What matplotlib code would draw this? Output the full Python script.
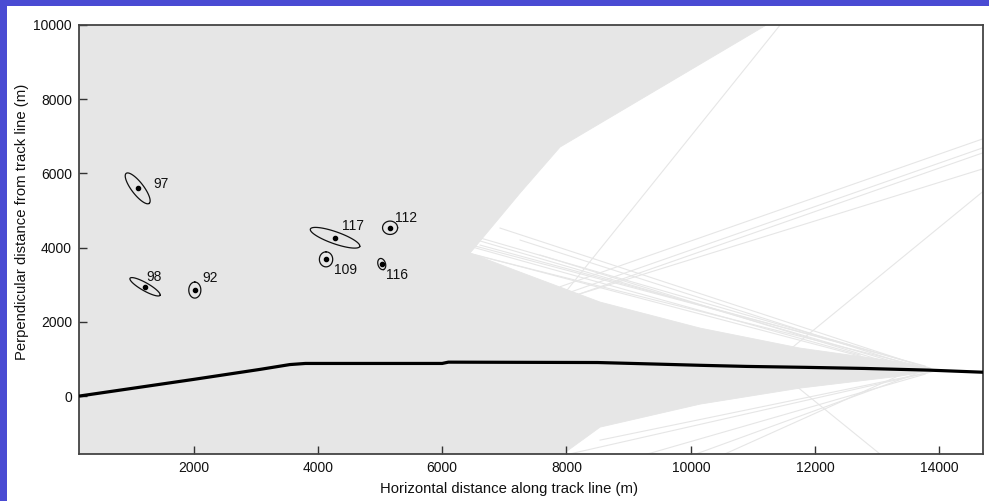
import numpy as np
import matplotlib
matplotlib.use('Agg')
from matplotlib import pyplot as plt
from matplotlib.patches import Polygon, Rectangle

plt.rcParams['font.family'] = ['Liberation Sans', 'DejaVu Sans']

# dense cloud of simulated tracks (outline, metres)
cloud_x = [0, 11720, 7897, 7253, 6449, 7253, 8540, 10149, 11758, 13367,
           13931, 13367, 11758, 10149, 8540, 7897, 7897, 0]
cloud_y = [10500, 10500, 6712, 5472, 3854, 3342, 2534, 1833, 1294, 916,
           701, 539, 216, -216, -836, -1617, -1700, -1700]

# stray tracks that leave the cloud (start x, start y, end x, end y)
stray_x0 = [11580, 14800, 11179, 14800, 14800, 14800, 14800,
            6449, 6610, 6931, 7253, 6208, 7575, 5966, 6127, 6288, 6449,
            8540, 9184, 9989, 10471, 7897]
stray_y0 = [10300, 5651, 970, 6992, 6750, 6615, 6177,
            4340, 4070, 4528, 4205, 3935, 3801, 4259, 3989, 4151, 4259,
            -1186, -1617, -1617, -1617, -1617]
stray_x1 = [7881, 11115, 13146, 7900, 7900, 7900, 7900,
            13850, 13770, 13609, 13367, 13931, 13045, 12724, 13206, 12563,
            13609,
            13850, 13770, 13609, 13367, 13931]
stray_y1 = [2588, 601, -1700, 2949, 2707, 2572, 2589,
            755, 809, 863, 916, 701, 970, 1105, 863, 1375, 755,
            647, 593, 593, 566, 674]

# ship track line
track_x = [158, 2000, 3070, 3550, 3800, 6000, 6100, 8500, 9400, 10150,
           10900, 11850, 12800, 13830, 14750]
track_y = [0, 450, 720, 850, 880, 880, 915, 905, 865, 830,
           800, 775, 745, 700, 640]

# estimated positions and their error ellipses
ids = ['97', '98', '92', '117', '112', '109', '116']
est_x = [1102, 1220, 2021, 4277, 5162, 4132, 5028]
est_y = [5598, 2946, 2857, 4267, 4536, 3685, 3558]
ell_ux = [185, 241, 0, 397, 121, 0, 28]
ell_uy = [-404, -229, 216, -234, 0, 202, -148]
ell_vx = [77, 32, 97, 32, 0, 107, 58]
ell_vy = [98, 94, 0, 152, 180, 0, 30]
lab_x = [1348, 1247, 2148, 4385, 5247, 4266, 5097]
lab_y = [5714, 3216, 3180, 4582, 4806, 3410, 3275]

gray = '#e6e6e6'
ink = '#111111'

fig = plt.figure(figsize=(9.89, 5.01), dpi=100, facecolor='#4a4bd3')
fig.patches.append(Rectangle((7 / 989, 0), 1, 1 - 6 / 501,
                             transform=fig.transFigure, facecolor='white',
                             edgecolor='none', zorder=-10))
ax = fig.add_axes([79 / 989, 47 / 501, 904 / 989, 429 / 501])
ax.set_facecolor('white')

ax.add_patch(Polygon(np.column_stack([cloud_x, cloud_y]), closed=True,
                     facecolor=gray, edgecolor=gray, lw=0.6, zorder=1))
for x0, y0, x1, y1 in zip(stray_x0, stray_y0, stray_x1, stray_y1):
    ax.plot([x0, x1], [y0, y1], color=gray, lw=0.8, zorder=1)

ax.plot(track_x, track_y, color='black', lw=2.3, zorder=3,
        solid_capstyle='butt')

t = np.linspace(0, 2 * np.pi, 120)
for i in range(len(ids)):
    ex = est_x[i] + ell_ux[i] * np.cos(t) + ell_vx[i] * np.sin(t)
    ey = est_y[i] + ell_uy[i] * np.cos(t) + ell_vy[i] * np.sin(t)
    ax.plot(ex, ey, color=ink, lw=0.9, zorder=4)
    ax.plot(est_x[i], est_y[i], 'o', color='black', ms=3, zorder=5)
    ax.text(lab_x[i], lab_y[i], ids[i], fontsize=10, color=ink,
            ha='left', va='center', zorder=5)

ax.set_xlim(158, 14700)
ax.set_ylim(-1560, 10000)
ax.set_xticks(range(2000, 14001, 2000))
ax.set_yticks(range(0, 10001, 2000))
ax.tick_params(direction='in', length=6, width=1, color='#333333',
               labelsize=10, labelcolor=ink, pad=5)
for sp in ax.spines.values():
    sp.set_color('#444444')
    sp.set_linewidth(1.3)

fig.text(509 / 989, 1 - 489 / 501, 'Horizontal distance along track line (m)',
         ha='center', va='center', fontsize=10.7, color=ink)
fig.text(22 / 989, 1 - 222 / 501, 'Perpendicular distance from track line (m)',
         ha='center', va='center', rotation=90, fontsize=10.7, color=ink)

fig.savefig('out.png', dpi=100, facecolor=fig.get_facecolor())
